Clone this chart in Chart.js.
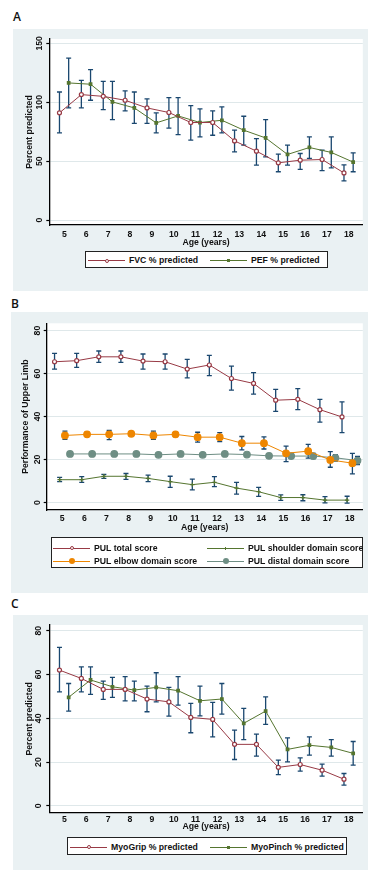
<!DOCTYPE html>
<html>
<head>
<meta charset="utf-8">
<script src="https://cdn.jsdelivr.net/npm/chart.js@4.4.1/dist/chart.umd.min.js"></script>
<style>
body { margin: 0; width: 368px; height: 870px; position: relative; overflow: hidden; background: #fff; font-family: "Liberation Sans", Arial, sans-serif; }
.panel { position: absolute; background: #eaf1f3; }
.panel canvas { position: absolute; left: 0; top: 0; }
.tag { position: absolute; font-family: "Open Sans", sans-serif; font-size: 12px; font-weight: 600; color: #111; line-height: 12px; }
.legend { position: absolute; background: #fff; border: 1px solid #222; box-sizing: border-box; }
.item { position: absolute; height: 10px; font-size: 8.7px; font-weight: bold; line-height: 10px; color: #111; white-space: nowrap; }
.item .ln { position: absolute; top: 5px; height: 1px; }
.item .mk { position: absolute; box-sizing: border-box; }
.item .tx { position: absolute; top: 0; }
</style>
</head>
<body>

<div class="tag" style="left:13px;top:11px">A</div>
<div class="tag" style="left:11px;top:298px">B</div>
<div class="tag" style="left:11px;top:598px">C</div>

<div class="panel" style="left:13px;top:29px;width:355px;height:262px"><canvas id="chartA" width="355" height="262"></canvas></div>
<div class="panel" style="left:11px;top:312px;width:357px;height:281px"><canvas id="chartB" width="357" height="281"></canvas></div>
<div class="panel" style="left:13px;top:615px;width:355px;height:255px"><canvas id="chartC" width="355" height="255"></canvas></div>

<div class="legend" id="legA" style="left:85px;top:251px;width:243px;height:17px"></div>
<div class="legend" id="legB" style="left:51px;top:537px;width:312px;height:31px"></div>
<div class="legend" id="legC" style="left:67px;top:837px;width:280px;height:18px"></div>

<script>
// ------------------------------------------ data ------------------------------------------
var ages = [5, 6, 7, 8, 9, 10, 11, 12, 13, 14, 15, 16, 17, 18];

// A: lung function
var fvcMean = [91, 106.5, 105, 101.7, 95.2, 91.3, 82.8, 82.8, 67.2, 58.5, 48.6, 50.8, 51.4, 40];
var fvcHi   = [108.7, 118.6, 117.8, 109.6, 102.8, 104, 97.2, 92.6, 76.3, 69.2, 56, 56.5, 59.3, 46.9];
var fvcLo   = [74, 95.2, 93.8, 92.6, 82, 78, 67.8, 72, 57.9, 46.6, 41, 43, 42, 33.3];
var pefMean = [116.4, 115.3, 100.3, 95.2, 82.5, 88.4, 82.8, 84.7, 76.3, 69.7, 55.7, 61.6, 57.4, 49.2];
var pefHi   = [137.5, 127.7, 117.8, 108.7, 91, 104, 94.3, 96, 88.1, 85.3, 63.6, 70.6, 70.6, 57];
var pefLo   = [95.2, 101.7, 85.3, 82, 74, 72.6, 70.6, 74, 63.6, 53.6, 46.6, 52.3, 44.3, 41];
var yTicksA = [0, 50, 100, 150];

// B: PUL scores
var totalMean = [65.5, 66, 67.8, 67.8, 65.8, 65.5, 62.1, 64, 57.7, 55.4, 47.6, 48, 43.2, 39.8];
var totalHi   = [69.4, 69.4, 70.5, 70.5, 69.1, 69.1, 66.6, 68.5, 63.5, 60.4, 52.6, 53, 48, 46.8];
var totalLo   = [62.1, 62.9, 65.2, 65.2, 62.1, 62.1, 58, 59, 52.3, 50.4, 42.4, 43.2, 37.4, 32.5];
var shoulderMean = [10.6, 10.6, 12.2, 12.2, 11.2, 9.7, 8.3, 9.4, 6.7, 5, 2.3, 2.3, 1.1, 1.1];
var shoulderHi   = [11.7, 12, 13.1, 13.5, 12.7, 12.2, 10.9, 12, 9.4, 7, 3.5, 3.6, 2.7, 2.9];
var shoulderLo   = [9.7, 9.4, 11.2, 10.8, 9.7, 7, 5.9, 7.4, 3.9, 2.8, 1, 0.8, -0.2, -0.3];
var elbowMean = [31.2, 31.7, 31.7, 32, 31.2, 31.7, 30.4, 30.4, 27.6, 27.6, 22.9, 23.9, 19.8, 18.3];
var elbowHi   = [33.2, 32.6, 33.5, 33, 33.2, 32.7, 32.7, 32.5, 30.7, 30.5, 26.2, 27, 23.7, 22.9];
var elbowLo   = [29.4, 30.8, 29.3, 31, 29.4, 30.7, 28.1, 28.3, 24.5, 24.9, 19, 20.6, 16.4, 13.3];
var distalMean = [22.6, 22.6, 22.6, 22.6, 22.2, 22.6, 22.2, 22.6, 22.3, 21.7, 21.6, 21.6, 20.8, 19.5];
var distalHi   = [23.2, 23.2, 23.2, 23.2, 22.9, 23.2, 22.9, 23.2, 23, 22.4, 22.6, 22.8, 22.3, 21.4];
var distalLo   = [22, 22, 22, 22, 21.5, 22, 21.5, 22, 21.6, 21, 20.6, 20.4, 19.3, 17.6];
var yTicksB = [0, 20, 40, 60, 80];

// C: grip / pinch
var gripMean = [62, 58.2, 53.2, 53.2, 48.8, 47.5, 40.4, 39.5, 28.1, 28.1, 17.6, 18.9, 16.3, 12.2];
var gripHi   = [72.4, 63.5, 57, 59, 54.7, 54.1, 46.8, 47.3, 34.6, 32.8, 20.9, 21.9, 19.1, 14.8];
var gripLo   = [52.1, 52.1, 48.6, 48, 43, 41, 33.4, 31.5, 21.2, 22.7, 14.3, 15.9, 13.6, 9.5];
var pinchMean = [49.6, 57.5, 54.4, 52.9, 54.1, 52.6, 48, 48.8, 37.7, 43.3, 25.8, 27.7, 26.7, 24];
var pinchHi   = [55.9, 63.5, 58.7, 57, 60.8, 59, 54.7, 55.9, 44.5, 49.8, 31.1, 31.5, 30.3, 29.4];
var pinchLo   = [43.3, 50.9, 49.6, 48, 47.5, 46, 41.1, 41.9, 30.3, 37.2, 20.1, 23.2, 22.7, 18.6];
var yTicksC = [0, 20, 40, 60, 80];

var navy = '#1a476f', maroon = '#983a45', green = '#55752f', orange = '#ee8600', teal = '#6e8e84';
var fontFam = '"Liberation Sans", Arial, sans-serif';
var axisFont = { family: fontFam, size: 8.7, weight: 'bold' };

// ------------------------------------------ plugins ------------------------------------------
var errorBars = {
    id: 'errorBars',
    beforeDatasetsDraw: function (chart) {
        var ctx = chart.ctx, ys = chart.scales.y;
        ctx.save();
        ctx.strokeStyle = navy;
        ctx.lineWidth = 1.3;
        chart.data.datasets.forEach(function (ds, i) {
            chart.getDatasetMeta(i).data.forEach(function (pt, j) {
                var top = ys.getPixelForValue(ds.hi[j]), bot = ys.getPixelForValue(ds.lo[j]);
                ctx.beginPath();
                ctx.moveTo(pt.x, top); ctx.lineTo(pt.x, bot);
                ctx.moveTo(pt.x - 2.5, top); ctx.lineTo(pt.x + 2.5, top);
                ctx.moveTo(pt.x - 2.5, bot); ctx.lineTo(pt.x + 2.5, bot);
                ctx.stroke();
            });
        });
        ctx.restore();
    }
};

var whitePlot = {
    id: 'whitePlot',
    beforeDraw: function (chart) {
        var a = chart.chartArea, ctx = chart.ctx;
        ctx.save();
        ctx.fillStyle = '#fff';
        ctx.fillRect(a.left, a.top, a.right - a.left, a.bottom - a.top);
        ctx.restore();
    }
};

// y tick labels are rotated like in Stata
var yTickText = {
    id: 'yTickText',
    afterDraw: function (chart, args, opts) {
        var ys = chart.scales.y, ctx = chart.ctx;
        ctx.save();
        ctx.fillStyle = '#111';
        ctx.font = 'bold 8.7px ' + fontFam;
        ctx.textAlign = 'center';
        ctx.textBaseline = 'middle';
        ys.ticks.forEach(function (t) {
            ctx.save();
            ctx.translate(opts.x, ys.getPixelForValue(t.value));
            ctx.rotate(-Math.PI / 2);
            ctx.fillText(String(t.value), 0, 0);
            ctx.restore();
        });
        ctx.restore();
    }
};

// ------------------------------------------ charts ------------------------------------------
function series(label, mean, lo, hi, off, color, style, radius, fill) {
    return {
        label: label,
        data: ages.map(function (a, i) { return { x: a + off, y: mean[i] }; }),
        lo: lo, hi: hi,
        borderColor: color,
        borderWidth: 1,
        pointStyle: style,
        pointRadius: radius,
        pointBorderColor: color,
        pointBorderWidth: 1.2,
        pointBackgroundColor: fill,
        tension: 0
    };
}

function makePanel(id, p) {
    var ctx = document.getElementById(id).getContext('2d');
    return new Chart(ctx, {
        type: 'line',
        data: { datasets: p.datasets },
        options: {
            responsive: false,
            animation: false,
            events: [],
            layout: { padding: { left: 0, top: p.area.top, right: p.w - p.area.right, bottom: p.h - p.area.bottom - p.xH } },
            plugins: {
                legend: { display: false },
                tooltip: { enabled: false },
                yTickText: { x: p.tickX }
            },
            scales: {
                x: {
                    type: 'linear', min: p.xMin, max: p.xMax,
                    grid: { display: false, drawTicks: false },
                    border: { display: true, color: '#000', width: 1.3 },
                    ticks: { autoSkip: false, padding: p.labelPad, color: '#111', font: axisFont },
                    afterBuildTicks: function (s) { s.ticks = ages.map(function (a) { return { value: a }; }); },
                    afterFit: function (s) { s.height = p.xH; },
                    title: { display: true, text: 'Age (years)', color: '#111', padding: 0, font: axisFont }
                },
                y: {
                    type: 'linear', min: p.yMin, max: p.yMax,
                    grid: { color: '#dfe8ea', lineWidth: 1, drawTicks: true, tickLength: 3, tickColor: '#000', tickWidth: 1.2 },
                    border: { display: true, color: '#000', width: 1.3 },
                    ticks: { display: false },
                    afterBuildTicks: function (s) { s.ticks = p.yTicks.map(function (v) { return { value: v }; }); },
                    afterFit: function (s) { s.width = p.area.left; },
                    title: { display: true, text: p.yTitle, color: '#111', padding: { top: p.titleX - 5.2, bottom: 0 }, font: axisFont }
                }
            }
        },
        plugins: [whitePlot, errorBars, yTickText]
    });
}

makePanel('chartA', {
    w: 355, h: 262, area: { left: 36.3, top: 10, right: 350, bottom: 196 }, xH: 22.5, labelPad: 4,
    xMin: 4.315, xMax: 18.64, yMin: -4.2, yMax: 153.7, yTicks: yTicksA, tickX: 26.7, titleX: 16.3,
    yTitle: 'Percent predicted',
    datasets: [
        series('FVC % predicted', fvcMean, fvcLo, fvcHi, -0.22, maroon, 'circle', 2, '#fff'),
        series('PEF % predicted', pefMean, pefLo, pefHi, 0.2, green, 'rect', 1.8, green)
    ]
});

makePanel('chartB', {
    w: 357, h: 281, area: { left: 35.7, top: 11.3, right: 352, bottom: 198 }, xH: 23, labelPad: 3,
    xMin: 4.295, xMax: 18.59, yMin: -3.5, yMax: 83.4, yTicks: yTicksB, tickX: 27, titleX: 14.5,
    yTitle: 'Performance of Upper Limb',
    datasets: [
        series('PUL total score', totalMean, totalLo, totalHi, -0.35, maroon, 'circle', 2, '#fff'),
        series('PUL shoulder domain score', shoulderMean, shoulderLo, shoulderHi, -0.12, green, 'cross', 2.2, green),
        series('PUL elbow domain score', elbowMean, elbowLo, elbowHi, 0.12, orange, 'circle', 3.3, orange),
        series('PUL distal domain score', distalMean, distalLo, distalHi, 0.35, teal, 'circle', 3.3, teal)
    ]
});

makePanel('chartC', {
    w: 355, h: 255, area: { left: 36.3, top: 10, right: 350, bottom: 197.7 }, xH: 19, labelPad: 2,
    xMin: 4.315, xMax: 18.64, yMin: -3.1, yMax: 82.6, yTicks: yTicksC, tickX: 25.8, titleX: 16.3,
    yTitle: 'Percent predicted',
    datasets: [
        series('MyoGrip % predicted', gripMean, gripLo, gripHi, -0.22, maroon, 'circle', 2, '#fff'),
        series('MyoPinch % predicted', pinchMean, pinchLo, pinchHi, 0.2, green, 'rect', 1.8, green)
    ]
});

// ------------------------------------------ legends ------------------------------------------
function legendItem(box, x, y, label, color, mk) {
    var d = document.createElement('div');
    d.className = 'item';
    d.style.left = x + 'px';
    d.style.top = y + 'px';
    var ln = '<span class="ln" style="left:0;width:37px;background:' + color + '"></span>';
    var m = '<span class="mk" style="left:' + (18.5 - mk.r) + 'px;top:' + (5.5 - mk.r) + 'px;width:' + (2 * mk.r) + 'px;height:' + (2 * mk.r) + 'px;' + mk.css + '"></span>';
    d.innerHTML = ln + m + '<span class="tx" style="left:41px">' + label + '</span>';
    document.getElementById(box).appendChild(d);
}
var hollow = function (c) { return { r: 2, css: 'border:1.2px solid ' + c + ';border-radius:50%;background:#fff' }; };
var dot = function (c, r) { return { r: r, css: 'border-radius:50%;background:' + c }; };
var sq = function (c) { return { r: 1.5, css: 'background:' + c }; };

legendItem('legA', 2, 3, 'FVC % predicted', maroon, hollow(maroon));
legendItem('legA', 124, 3, 'PEF % predicted', green, sq(green));

legendItem('legB', 1, 4.5, 'PUL total score', maroon, hollow(maroon));
legendItem('legB', 155, 4.5, 'PUL shoulder domain score', green, { r: 1.5, css: 'border-left:1px solid ' + green + ';width:1px;left:18px' });
legendItem('legB', 1, 17.5, 'PUL elbow domain score', orange, dot(orange, 3));
legendItem('legB', 155, 17.5, 'PUL distal domain score', teal, dot(teal, 3));

legendItem('legC', 2, 3.5, 'MyoGrip % predicted', maroon, hollow(maroon));
legendItem('legC', 142, 3.5, 'MyoPinch % predicted', green, sq(green));
</script>
</body>
</html>
